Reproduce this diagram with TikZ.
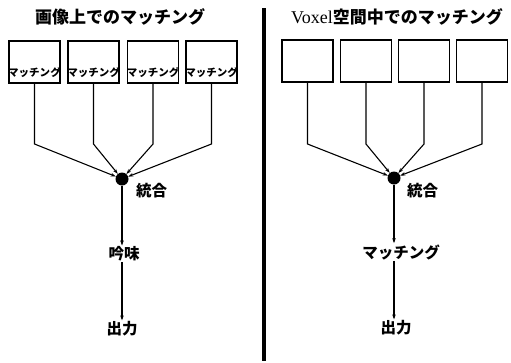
\documentclass[tikz,border=0pt]{standalone}
\usepackage{fontspec}
\newfontfamily\jp{Noto Sans CJK JP}
\newfontfamily\serifv{Liberation Serif}
\usetikzlibrary{arrows.meta}
\begin{document}
\begin{tikzpicture}[x=1pt,y=-1pt,
  box/.style={draw, line width=1.1pt, minimum width=51pt, minimum height=42pt, inner sep=0pt},
  boxtext/.style={font=\jp\bfseries\fontsize{10.5}{11}\selectfont, inner sep=0pt},
  ttl/.style={font=\jp\bfseries\fontsize{17}{18}\selectfont, inner sep=0pt},
  lab/.style={font=\jp\bfseries\fontsize{15.5}{16}\selectfont, inner sep=1pt},
  conn/.style={line width=1.1pt},
  arr/.style={line width=1.1pt, -{Stealth[length=5pt,width=3.5pt]}},
  dot/.style={circle, fill=black, inner sep=0pt, minimum size=13pt}]
\useasboundingbox[fill=white] (0,0) rectangle (511,362);
% divider
\draw[line width=3.5pt] (264,8) -- (264,361);
% titles
\node[ttl] (Ltitle) at (120,17) {画像上でのマッチング};
\node[ttl] (Rtitle) at (397,17) {{\serifv\mdseries\fontsize{18}{18}\selectfont Voxel}空間中でのマッチング};
% kink level
\coordinate (lk) at (0,144);
% left boxes
\node[box] (L1) at (34.5,62) {};
\node[box] (L2) at (93.5,62) {};
\node[box] (L3) at (153,62) {};
\node[box] (L4) at (211.5,62) {};
\node[boxtext] (L1t) at (34.5,72) {マッチング};
\node[boxtext] (L2t) at (93.5,72) {マッチング};
\node[boxtext] (L3t) at (153,72) {マッチング};
\node[boxtext] (L4t) at (211.5,72) {マッチング};
\node[dot] (Ldot) at (122,179) {};
\foreach \b in {L1,L2,L3,L4}
  \draw[arr] (\b.south) -- (\b.south |- lk) -- (Ldot);
\node[lab, anchor=west] (Lint) at (135,191) {統合};
\node[lab] (Lgin) at (124,254) {吟味};
\node[lab] (Lout) at (122,329) {出力};
\draw[arr] (Ldot) -- (Lgin.north -| Ldot);
\draw[arr] (Lgin.south -| Ldot) -- (Lout.north -| Ldot);
% right boxes
\node[box] (R1) at (307.5,61) {};
\node[box] (R2) at (366,61) {};
\node[box] (R3) at (424,61) {};
\node[box] (R4) at (482,61) {};
\node[dot] (Rdot) at (394,178) {};
\foreach \b in {R1,R2,R3,R4}
  \draw[arr] (\b.south) -- (\b.south |- lk) -- (Rdot);
\node[lab, anchor=west] (Rint) at (406,191) {統合};
\node[lab] (Rmat) at (401,252) {マッチング};
\node[lab] (Rout) at (396,328) {出力};
\draw[arr] (Rdot) -- (Rmat.north -| Rdot);
\draw[arr] (Rmat.south -| Rdot) -- (Rout.north -| Rdot);
\end{tikzpicture}
\end{document}
